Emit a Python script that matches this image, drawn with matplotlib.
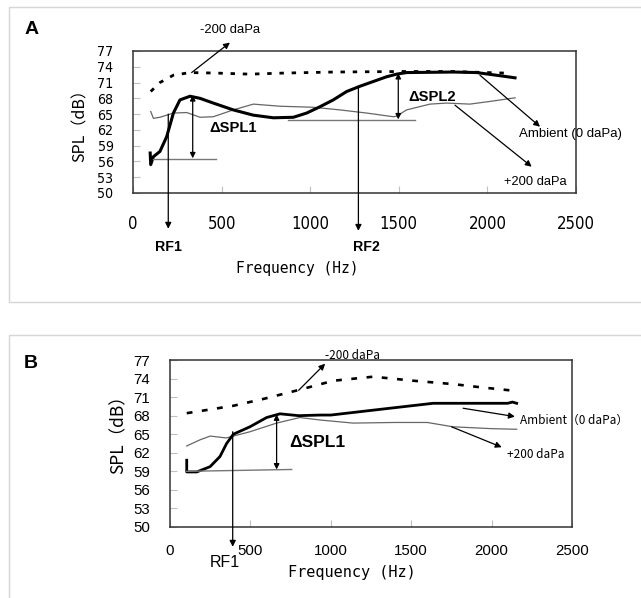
import matplotlib
matplotlib.use("Agg")
import matplotlib.pyplot as plt
from matplotlib import font_manager
from matplotlib.patches import Rectangle

# ---- panel A: SPL vs frequency ----
amb_a_f = [97, 100, 115, 152, 190, 228, 265, 322, 378, 453, 566, 679, 792, 905,
           980, 1055, 1130, 1206, 1281, 1356, 1431, 1488, 1544, 1807, 1939, 2071, 2156]
amb_a_db = [57.6, 55.4, 56.9, 57.9, 60.7, 65.2, 67.7, 68.4, 68.0, 67.1, 65.8, 64.8, 64.3, 64.4,
            65.2, 66.4, 67.7, 69.3, 70.3, 71.2, 72.1, 72.6, 72.9, 73.0, 72.9, 72.3, 71.9]

neg_a_f = [100, 152, 228, 322, 472, 660, 848, 1130, 1507, 1800, 2100]
neg_a_db = [69.3, 71.0, 72.4, 72.9, 72.8, 72.6, 72.8, 73.0, 73.1, 73.1, 72.8]

pos_a_f = [100, 115, 152, 228, 303, 378, 453, 566, 679, 829, 1017, 1168, 1319, 1469,
           1488, 1544, 1676, 1770, 1901, 2033, 2156]
pos_a_db = [65.5, 64.2, 64.4, 65.2, 65.3, 64.4, 64.5, 65.8, 66.9, 66.5, 66.3, 65.8, 65.2, 64.5,
            64.6, 65.8, 66.9, 67.1, 66.9, 67.5, 68.1]

# ---- panel B ----
amb_b_f = [104, 104, 166, 249, 311, 352, 394, 497, 601, 684, 800, 933, 1000, 1300,
           1636, 1900, 2100, 2130, 2156]
amb_b_db = [60.8, 58.9, 58.9, 59.75, 61.4, 63.5, 65.0, 66.2, 67.7, 68.3, 68.0, 68.1, 68.1, 69.0,
            70.0, 70.0, 70.0, 70.2, 70.0]

pos_b_f = [104, 187, 250, 350, 497, 663, 808, 933, 1138, 1400, 1600, 1760, 2000, 2156]
pos_b_db = [63.1, 64.1, 64.7, 64.4, 65.4, 66.8, 67.7, 67.3, 66.8, 66.9, 66.9, 66.2, 65.9, 65.8]

neg_b_f = [104, 394, 580, 808, 1016, 1264, 1513, 1762, 1928, 2150]
neg_b_db = [68.4, 69.6, 70.7, 72.2, 73.65, 74.3, 73.65, 73.1, 72.6, 72.0]

yticks = list(range(50, 78, 3))
xticks = [0, 500, 1000, 1500, 2000, 2500]

plt.rcParams["font.family"] = ["Liberation Sans", "DejaVu Sans"]

# narrow face for panel A tick labels, if one is installed
narrow = [f for f in font_manager.fontManager.ttflist
          if ("Narrow" in f.name or "Condensed" in f.name or f.stretch in ("condensed", "semi-condensed"))
          and f.weight in (400, "normal", "regular") and f.style == "normal"]
if narrow:
    tick_fp_a = font_manager.FontProperties(fname=narrow[0].fname, size=10.2)
    tick_fp_ax = font_manager.FontProperties(fname=narrow[0].fname, size=12)
else:
    tick_fp_a = font_manager.FontProperties(family="Liberation Sans", size=10)
    tick_fp_ax = font_manager.FontProperties(family="Liberation Sans", size=11)

W, H = 641, 598
fig = plt.figure(figsize=(W / 100, H / 100), dpi=100)

# light gray panel frames
fig.patches.append(Rectangle((9 / W, 1 - 302 / H), 1.0, 295 / H, transform=fig.transFigure,
                             fill=False, ec="#d6d6d6", lw=1))
fig.patches.append(Rectangle((9 / W, -0.1), 1.0, 1 - 335 / H + 0.1, transform=fig.transFigure,
                             fill=False, ec="#d6d6d6", lw=1))

def px_axes(l, t, r, b):
    return fig.add_axes([l / W, 1 - b / H, (r - l) / W, (b - t) / H])

arrow = dict(arrowstyle="-|>", color="black", lw=0.9, mutation_scale=9, shrinkA=0, shrinkB=0)
darrow = dict(arrowstyle="<|-|>", color="black", lw=0.9, mutation_scale=8, shrinkA=0, shrinkB=0)
mono = ["DejaVu Sans Mono"]
cjk = ["Noto Sans CJK JP", "DejaVu Sans"]

def setup(ax, ypad, xpad):
    ax.set_xlim(0, 2500)
    ax.set_ylim(50, 77)
    ax.set_xticks(xticks)
    ax.set_yticks(yticks)
    ax.tick_params(direction="in", length=5, width=0.8, color="#c0c0c0")
    ax.tick_params(axis="y", pad=ypad)
    ax.tick_params(axis="x", pad=xpad)
    for s in ax.spines.values():
        s.set_color("#333333")
        s.set_linewidth(1.1)

# ================= A =================
axa = px_axes(133, 51, 576, 193)
setup(axa, 14, 16)
for lbl in axa.get_yticklabels():
    lbl.set_fontproperties(tick_fp_a)
for lbl in axa.get_xticklabels():
    lbl.set_fontproperties(tick_fp_ax)
axa.plot(pos_a_f, pos_a_db, color="#666666", lw=0.9)
axa.plot(neg_a_f, neg_a_db, color="black", lw=2.0, linestyle=(0, (1.6, 2.8)))
axa.plot(amb_a_f, amb_a_db, color="black", lw=2.2)

axa.set_ylabel("SPL（dB）", fontsize=11.5, family=cjk)
axa.yaxis.set_label_coords(-0.1, 0.5)
axa.set_xlabel("Frequency (Hz)", fontsize=10.5, family=mono)
axa.xaxis.set_label_coords(0.371, -0.479)

# delta SPL1 / SPL2
axa.plot([115, 468], [56.5, 56.5], color="#777777", lw=1)
axa.annotate("", xy=(337, 56.6), xytext=(337, 68.6), arrowprops=darrow)
axa.text(566, 62.3, "ΔSPL1", fontsize=10.6, fontweight="bold", ha="center", va="center")
axa.plot([876, 1591], [63.9, 63.9], color="#777777", lw=1)
axa.annotate("", xy=(1497, 64.0), xytext=(1497, 72.8), arrowprops=darrow)
axa.text(1688, 68.3, "ΔSPL2", fontsize=10.6, fontweight="bold", ha="center", va="center")

# RF arrows
axa.annotate("", xy=(199, 43.2), xytext=(199, 65.0), arrowprops=arrow, annotation_clip=False)
axa.text(199, 39.8, "RF1", fontsize=10.2, fontweight="bold", ha="center", va="center", clip_on=False)
axa.annotate("", xy=(1272, 42.8), xytext=(1272, 70.3), arrowprops=arrow, annotation_clip=False)
axa.text(1319, 39.8, "RF2", fontsize=10.2, fontweight="bold", ha="center", va="center", clip_on=False)

# condition labels
axa.annotate("", xy=(547, 78.6), xytext=(331, 72.9), arrowprops=arrow, annotation_clip=False)
axa.text(547, 81.0, "-200 daPa", fontsize=9.4, ha="center", va="center", clip_on=False)
axa.annotate("", xy=(2297, 62.6), xytext=(1958, 72.4), arrowprops=arrow, annotation_clip=False)
axa.text(2178, 61.2, "Ambient (0 daPa)", fontsize=9.5, ha="left", va="center", clip_on=False)
axa.annotate("", xy=(2250, 55.0), xytext=(1817, 66.7), arrowprops=arrow, annotation_clip=False)
axa.text(2094, 52.1, "+200 daPa", fontsize=9.3, ha="left", va="center", clip_on=False)

fig.text(32 / W, 1 - 30 / H, "A", fontsize=14, fontweight="bold", ha="center", va="center")

# ================= B =================
axb = px_axes(170, 360, 572, 527)
setup(axb, 14.5, 12)
axb.tick_params(labelsize=10.8)
axb.plot(pos_b_f, pos_b_db, color="#666666", lw=0.9)
axb.plot(neg_b_f, neg_b_db, color="black", lw=1.9, linestyle=(0, (2.2, 3.6)))
axb.plot(amb_b_f, amb_b_db, color="black", lw=2.0)

axb.set_ylabel("SPL（dB）", fontsize=12.5, family=cjk)
axb.yaxis.set_label_coords(-0.105, 0.58)
axb.set_xlabel("Frequency (Hz)", fontsize=11, family=mono)
axb.xaxis.set_label_coords(0.452, -0.23)

axb.plot([104, 757], [59.0, 59.3], color="#777777", lw=1)
axb.annotate("", xy=(663, 59.3), xytext=(663, 68.2), arrowprops=darrow)
axb.text(914, 63.6, "ΔSPL1", fontsize=12.5, fontweight="bold", ha="center", va="center")

axb.annotate("", xy=(390, 46.8), xytext=(390, 65.4), arrowprops=arrow, annotation_clip=False)
axb.text(342, 44.3, "RF1", fontsize=11.5, ha="center", va="center", clip_on=False)

axb.annotate("", xy=(965, 76.4), xytext=(800, 72.1), arrowprops=arrow, annotation_clip=False)
axb.text(1132, 77.65, "-200 daPa", fontsize=8.5, family=cjk, ha="center", va="center", clip_on=False)
axb.annotate("", xy=(2145, 67.85), xytext=(1823, 69.2), arrowprops=arrow, annotation_clip=False)
axb.text(2177, 67.3, "Ambient（0 daPa）", fontsize=8.5, family=cjk, ha="left", va="center", clip_on=False)
axb.annotate("", xy=(2063, 62.9), xytext=(1751, 66.2), arrowprops=arrow, annotation_clip=False)
axb.text(2094, 61.8, "+200 daPa", fontsize=8.5, family=cjk, ha="left", va="center", clip_on=False)

fig.text(31 / W, 1 - 363 / H, "B", fontsize=14, fontweight="bold", ha="center", va="center")

fig.savefig("out.png", dpi=100)
